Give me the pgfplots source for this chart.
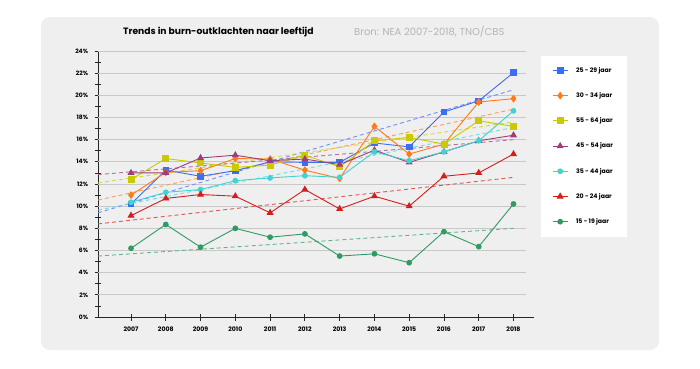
\documentclass[border=0pt]{standalone}
\usepackage{pgfplots}
\pgfplotsset{compat=1.18}
\usepackage{fontspec}
\setmainfont{Poppins}
\definecolor{panel}{HTML}{EFEFEF}
\definecolor{gridc}{HTML}{C8C8C8}
\definecolor{srcgray}{HTML}{B4B4B4}
\definecolor{cblue}{HTML}{3D6DF2}
\definecolor{corange}{HTML}{FF7A1A}
\definecolor{cyellow}{HTML}{CACA00}
\definecolor{cpurple}{HTML}{9E3D7A}
\definecolor{ccyan}{HTML}{3FD3D3}
\definecolor{cred}{HTML}{D41E1E}
\definecolor{cgreen}{HTML}{2E9B62}
\begin{document}
\begin{tikzpicture}
\fill[white] (0pt,0pt) rectangle (700pt,368pt);
\fill[panel, rounded corners=9pt] (41pt,18pt) rectangle (659pt,351pt);
\fill[white] (541pt,131pt) rectangle (627pt,312pt);
\node[font=\bfseries\fontsize{9.2}{11}\selectfont, anchor=west, inner sep=0pt] at (123pt,336pt) {Trends in burn-outklachten naar leeftijd};
\node[font=\fontsize{10}{12}\selectfont, text=srcgray, anchor=west, inner sep=0pt] at (354pt,336pt) {Bron: NEA 2007-2018, TNO/CBS};
\begin{axis}[
  at={(98pt,51pt)}, anchor=south west, scale only axis,
  width=436pt, height=266pt,
  xmin=2006.05, xmax=2018.59, ymin=0, ymax=24,
  axis x line*=bottom, axis y line*=left,
  axis line style={black!85, line width=0.9pt},
  xtick={2007,...,2018}, ytick={0,2,...,24}, minor ytick={1,3,...,23},
  tick align=center, major tick length=7pt, minor tick length=6pt,
  tick style={black!85, line width=0.8pt},
  /pgf/number format/assume math mode=true,
  xticklabel style={font=\bfseries\fontsize{6.2}{7}\selectfont, /pgf/number format/1000 sep={}, yshift=-3pt},
  yticklabel style={font=\bfseries\fontsize{6}{7}\selectfont, xshift=-3pt},
  yticklabel={\pgfmathprintnumber{\tick}\%},
  legend cell align=left,
  legend style={at={(axis description cs:1.0413,0.9398)}, anchor=north west,
    draw=none, fill=none, inner sep=0pt, row sep=18.7pt, column sep=8pt,
    font=\bfseries\fontsize{6.2}{7}\selectfont,
    nodes={inner sep=0pt, text height=5pt, text depth=1.5pt}},
  legend image code/.code={\draw[mark repeat=2,mark phase=2] plot coordinates {(0pt,0pt) (7.5pt,0pt) (15pt,0pt)};},
  every axis plot/.append style={line width=0.9pt},
]
\pgfplotsinvokeforeach{2,4,...,24}{\draw[gridc, line width=0.8pt] (axis cs:2006.05,#1) -- (axis cs:2018.36,#1);}
% trend lines
\addplot[forget plot, cblue!75, dashed, dash pattern=on 4pt off 3pt] coordinates {(2006.05,9.4) (2018,20.5)};
\addplot[forget plot, corange!75, dashed, dash pattern=on 4pt off 3pt] coordinates {(2006.05,10.55) (2018,18.75)};
\addplot[forget plot, cyellow!75, dashed, dash pattern=on 4pt off 3pt] coordinates {(2006.05,12.1) (2018,17.6)};
\addplot[forget plot, cpurple!75, dashed, dash pattern=on 4pt off 3pt] coordinates {(2006.05,12.85) (2018,16.0)};
\addplot[forget plot, ccyan!75, dashed, dash pattern=on 4pt off 3pt] coordinates {(2006.05,9.65) (2018,17.1)};
\addplot[forget plot, cred!75, dashed, dash pattern=on 4pt off 3pt] coordinates {(2006.05,8.4) (2018,12.6)};
\addplot[forget plot, cgreen!75, dashed, dash pattern=on 4pt off 3pt] coordinates {(2006.05,5.5) (2018,8.0)};
% data
\addplot[cblue, mark=square*, mark size=2.8pt] coordinates {(2007,10.2) (2008,13.25) (2009,12.7) (2010,13.2) (2011,14.0) (2012,13.95) (2013,13.95) (2014,15.7) (2015,15.35) (2016,18.5) (2017,19.5) (2018,22.05)};
\addlegendentry{25 - 29 jaar}
\addplot[corange, mark=diamond*, mark size=3.2pt] coordinates {(2007,11.0) (2008,13.05) (2009,13.2) (2010,14.3) (2011,14.25) (2012,13.25) (2013,12.5) (2014,17.2) (2015,14.7) (2016,15.6) (2017,19.4) (2018,19.7)};
\addlegendentry{30 - 34 jaar}
\addplot[cyellow, mark=square*, mark size=3pt] coordinates {(2007,12.4) (2008,14.3) (2009,13.9) (2010,13.5) (2011,13.7) (2012,14.6) (2013,13.55) (2014,15.9) (2015,16.2) (2016,15.6) (2017,17.7) (2018,17.2)};
\addlegendentry{55 - 64 jaar}
\addplot[cpurple, mark=triangle*, mark size=3.2pt] coordinates {(2007,13.0) (2008,13.0) (2009,14.35) (2010,14.6) (2011,14.1) (2012,14.25) (2013,13.75) (2014,15.05) (2015,13.95) (2016,14.9) (2017,15.9) (2018,16.4)};
\addlegendentry{45 - 54 jaar}
\addplot[ccyan, mark=*, mark size=2.4pt] coordinates {(2007,10.35) (2008,11.25) (2009,11.5) (2010,12.3) (2011,12.55) (2012,12.75) (2013,12.6) (2014,14.9) (2015,14.1) (2016,14.9) (2017,15.9) (2018,18.6)};
\addlegendentry{35 - 44 jaar}
\addplot[cred, mark=triangle*, mark size=3.2pt] coordinates {(2007,9.15) (2008,10.7) (2009,11.05) (2010,10.9) (2011,9.4) (2012,11.5) (2013,9.75) (2014,10.9) (2015,10.0) (2016,12.7) (2017,13.0) (2018,14.7)};
\addlegendentry{20 - 24 jaar}
\addplot[cgreen, mark=*, mark size=2.4pt] coordinates {(2007,6.2) (2008,8.35) (2009,6.3) (2010,8.0) (2011,7.2) (2012,7.5) (2013,5.5) (2014,5.7) (2015,4.9) (2016,7.7) (2017,6.35) (2018,10.2)};
\addlegendentry{15 - 19 jaar}
\end{axis}
\end{tikzpicture}
\end{document}
